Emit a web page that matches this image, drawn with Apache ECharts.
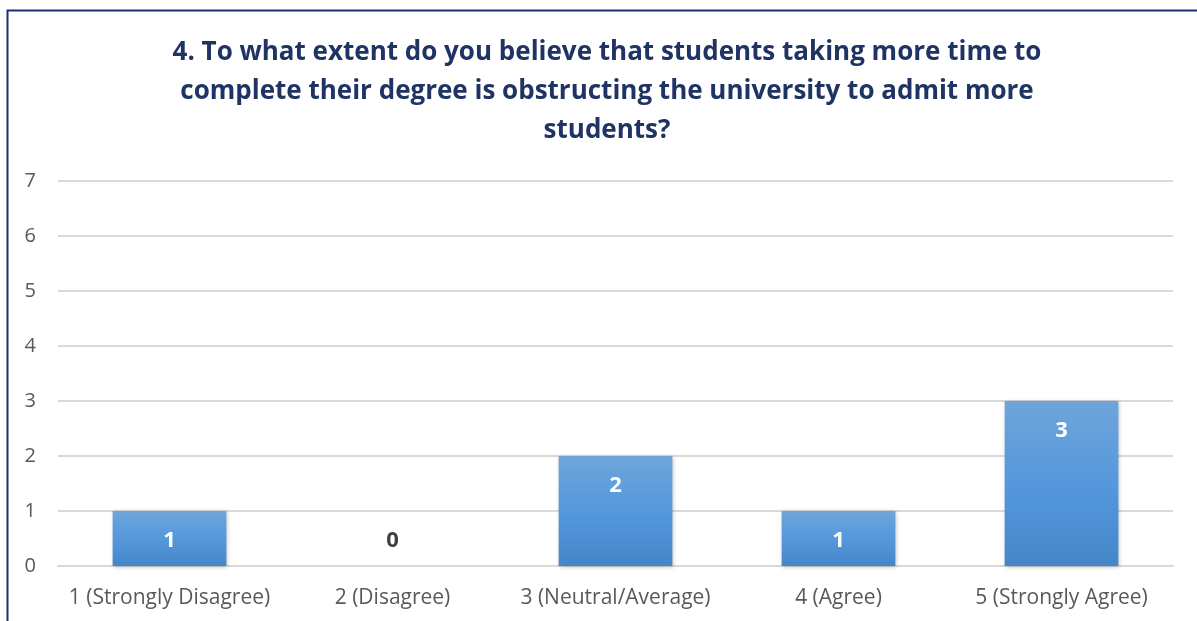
<!DOCTYPE html>
<html>
<head>
<meta charset="utf-8">
<script src="https://cdn.jsdelivr.net/npm/echarts@6/dist/echarts.min.js"></script>
<style>
  html, body { margin: 0; padding: 0; background: #ffffff; }
  #chart { width: 1197px; height: 621px; }
</style>
</head>
<body>
<div id="chart"></div>
<script>
// Survey responses: how many respondents picked each agreement level
const titleText = '4. To what extent do you believe that students taking more time to\ncomplete their degree is obstructing the university to admit more\nstudents?';
const categories = ['1 (Strongly Disagree)', '2 (Disagree)', '3 (Neutral/Average)', '4 (Agree)', '5 (Strongly Agree)'];
const responses = [1, 0, 2, 1, 3];
const yTicks = [0, 1, 2, 3, 4, 5, 6, 7];

const fontFamily = '"Open Sans", "Liberation Sans", sans-serif';

const barFill = new echarts.graphic.LinearGradient(0, 0, 0, 1, [
  { offset: 0, color: '#6fa5da' },
  { offset: 0.5, color: '#5598dc' },
  { offset: 1, color: '#4486c8' }
]);

const seriesData = responses.map(v => {
  if (v === 0) {
    return {
      value: v,
      label: { position: 'top', distance: 14, color: '#404040' }
    };
  }
  return { value: v };
});

const chart = echarts.init(document.getElementById('chart'));
chart.setOption({
  backgroundColor: '#ffffff',
  animation: false,
  title: {
    text: titleText,
    left: 602,
    top: 28,
    textAlign: 'center',
    textStyle: {
      fontFamily: fontFamily,
      fontSize: 26,
      fontWeight: 'bold',
      color: '#1f3464',
      lineHeight: 39
    }
  },
  graphic: [{
    type: 'polyline',
    shape: { points: [[7.5, 625], [7.5, 10.5], [1200, 10.5]] },
    style: { stroke: '#1c2f6e', lineWidth: 2, fill: null },
    silent: true
  }],
  grid: { left: 58, right: 24, top: 181, bottom: 55 },
  xAxis: {
    type: 'category',
    data: categories,
    axisLine: { show: true, lineStyle: { color: '#d9d9d9', width: 2 } },
    axisTick: { show: false },
    axisLabel: {
      interval: 0,
      fontFamily: fontFamily,
      fontSize: 21,
      color: '#595959',
      margin: 22
    }
  },
  yAxis: {
    type: 'value',
    min: yTicks[0],
    max: yTicks[yTicks.length - 1],
    interval: 1,
    axisLine: { show: false },
    axisTick: { show: false },
    splitLine: { lineStyle: { color: '#d9d9d9', width: 2 } },
    axisLabel: {
      fontFamily: fontFamily,
      fontSize: 20,
      color: '#595959',
      margin: 22
    }
  },
  series: [{
    type: 'bar',
    data: seriesData,
    barWidth: '51%',
    itemStyle: {
      color: barFill,
      shadowColor: 'rgba(0,0,0,0.25)',
      shadowBlur: 4,
      shadowOffsetX: 1,
      shadowOffsetY: 1
    },
    label: {
      show: true,
      position: 'insideTop',
      distance: 19,
      fontFamily: fontFamily,
      fontSize: 22,
      fontWeight: 'bold',
      color: '#ffffff'
    }
  }]
});
</script>
</body>
</html>
